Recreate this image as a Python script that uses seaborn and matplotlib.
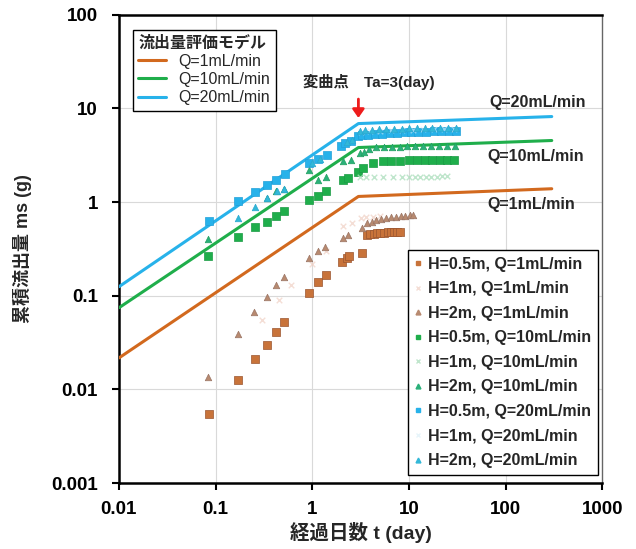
import numpy as np
import pandas as pd
import matplotlib
matplotlib.use("Agg")
import matplotlib.pyplot as plt
import seaborn as sns
from matplotlib.ticker import FixedLocator, FixedFormatter, NullLocator
from matplotlib.lines import Line2D

# ----------------------------- Datos -----------------------------
# Modelo de evaluación (tramos en escala log-log)
t_modelo = [0.01, 3, 300]
m_q1 = [0.0217, 1.15, 1.39]
m_q10 = [0.0745, 3.83, 4.55]
m_q20 = [0.125, 6.9, 8.2]

# Mediciones H=0.5m, Q=1mL/min
t_h05_q1 = [0.086, 0.171, 0.256, 0.342, 0.424, 0.51, 0.93, 1.15, 1.39, 2.05, 2.3, 2.4, 3.3,
            3.7, 4.0, 4.3, 4.7, 5.0, 5.5, 6.0, 6.5, 7.0, 7.5, 8.0]
m_h05_q1 = [0.0055, 0.0127, 0.0212, 0.030, 0.041, 0.053, 0.108, 0.141, 0.168, 0.231, 0.255, 0.268, 0.288,
            0.45, 0.46, 0.46, 0.47, 0.47, 0.47, 0.48, 0.48, 0.48, 0.48, 0.48]
# H=1m, Q=1mL/min (marcas claras)
t_h1_q1 = [0.30, 0.45, 0.6, 1.0, 1.4, 2.1, 2.6, 3.2, 3.6, 4.2, 5.0]
m_h1_q1 = [0.055, 0.09, 0.13, 0.22, 0.30, 0.55, 0.60, 0.68, 0.70, 0.70, 0.72]
# H=2m, Q=1mL/min
t_h2_q1 = [0.0836, 0.171, 0.25, 0.342, 0.424, 0.51, 0.93, 1.15, 1.35, 2.1, 2.35, 3.3,
           3.7, 4.1, 4.6, 5.2, 5.8, 6.5, 7.3, 8.2, 9.2, 10.3, 11.0]
m_h2_q1 = [0.0136, 0.0393, 0.0675, 0.0975, 0.131, 0.16, 0.255, 0.303, 0.334, 0.417, 0.449, 0.534,
           0.60, 0.62, 0.64, 0.66, 0.68, 0.69, 0.70, 0.71, 0.72, 0.73, 0.735]

# H=0.5m, Q=10mL/min
t_h05_q10 = [0.0836, 0.171, 0.256, 0.342, 0.424, 0.51, 0.93, 1.15, 1.39, 2.1, 2.36,
             3.0, 3.38, 4.29, 5.44, 6.5, 8.0, 10.0, 12.0, 14.5, 17.5, 21.0, 25.0, 29.0]
m_h05_q10 = [0.268, 0.428, 0.547, 0.618, 0.718, 0.81, 1.06, 1.17, 1.30, 1.74, 1.83,
             2.12, 2.34, 2.64, 2.72, 2.76, 2.78, 2.80, 2.80, 2.82, 2.82, 2.83, 2.83, 2.84]
# H=1m, Q=10mL/min (marcas claras)
t_h1_q10 = [3.1, 3.6, 4.3, 5.4, 6.8, 8.5, 10.0, 11.5, 13.0, 15.0, 17.0, 19.5, 22.0, 25.0]
m_h1_q10 = [1.85, 1.86, 1.84, 1.85, 1.86, 1.85, 1.86, 1.86, 1.86, 1.87, 1.87, 1.87, 1.88, 1.88]
# H=2m, Q=10mL/min
t_h2_q10 = [0.0836, 0.342, 0.424, 0.51, 0.93, 1.15, 1.39, 2.1, 2.5, 3.1, 3.4, 3.9,
            4.6, 5.5, 6.6, 8.0, 9.5, 11.5, 14.0, 17.0, 20.5, 25.0, 30.0]
m_h2_q10 = [0.40, 1.12, 1.33, 1.39, 2.23, 1.74, 1.87, 2.78, 2.85, 3.38, 3.45, 3.73,
            3.85, 3.88, 3.90, 3.92, 3.94, 3.95, 3.96, 3.97, 3.98, 3.99, 4.0]

# H=0.5m, Q=20mL/min
t_h05_q20 = [0.0858, 0.171, 0.256, 0.342, 0.424, 0.525, 0.93, 1.15, 1.43, 2.0, 2.2, 2.5,
             3.0, 3.3, 3.8, 4.5, 5.3, 6.3, 7.5, 9.0, 10.5, 12.5, 15.0, 18.0, 21.5, 26.0, 31.0]
m_h05_q20 = [0.634, 1.04, 1.29, 1.54, 1.74, 2.02, 2.64, 2.92, 3.22, 4.0, 4.33, 4.5,
             5.05, 5.15, 5.25, 5.35, 5.40, 5.45, 5.50, 5.55, 5.58, 5.62, 5.65, 5.68, 5.70, 5.72, 5.75]
# H=1m, Q=20mL/min (marcas claras)
t_h1_q20 = [3.2, 4.0, 5.0, 6.5, 8.5, 11.0, 14.0, 18.0, 23.0, 29.0]
m_h1_q20 = [5.6, 5.7, 5.8, 5.85, 5.9, 5.95, 6.0, 6.0, 6.05, 6.05]
# H=2m, Q=20mL/min
t_h2_q20 = [0.171, 0.256, 0.342, 0.43, 0.51, 1.0, 1.2, 2.3, 2.6,
            3.1, 3.5, 4.1, 4.9, 5.8, 7.0, 8.4, 10.0, 12.0, 14.5, 17.5, 21.0, 25.5, 31.0]
m_h2_q20 = [0.682, 0.895, 1.12, 1.33, 1.39, 2.6, 2.9, 4.4, 4.6,
            5.8, 5.9, 5.95, 6.0, 6.05, 6.1, 6.1, 6.15, 6.15, 6.2, 6.2, 6.2, 6.25, 6.25]

# Colores
c_q1 = "#d2691e"
c_q10 = "#1fae4b"
c_q20 = "#27b2ea"

# ----------------------------- Estilo -----------------------------
sns.set_style("ticks")
plt.rcParams['font.family'] = ['Liberation Sans', 'Noto Sans CJK JP', 'DejaVu Sans']
plt.rcParams['font.weight'] = 'bold'

fig = plt.figure(figsize=(6.36, 5.49), dpi=100)
ax = fig.add_axes([0.187, 0.120, 0.760, 0.853])
ax.set_xscale('log')
ax.set_yscale('log')

# Rejilla
for v in [0.1, 1, 10, 100]:
    ax.axvline(v, color='#d9d9d9', lw=0.8, zorder=0)
for v in [0.01, 0.1, 1, 10]:
    ax.axhline(v, color='#d9d9d9', lw=0.8, zorder=0)

# ----------------------------- Modelo -----------------------------
df_mod = pd.DataFrame({'t': t_modelo * 3,
                       'm': m_q1 + m_q10 + m_q20,
                       'serie': ['Q=1mL/min'] * 3 + ['Q=10mL/min'] * 3 + ['Q=20mL/min'] * 3})
sns.lineplot(data=df_mod, x='t', y='m', hue='serie', palette=[c_q1, c_q10, c_q20],
             linewidth=2.2, ax=ax, legend=False, zorder=3)

# ----------------------------- Mediciones -----------------------------
series = [
    ('H=0.5m, Q=1mL/min', t_h05_q1, m_h05_q1, 's', '#c8733a', '#9a5530', 28, 1.0),
    ('H=1m, Q=1mL/min', t_h1_q1, m_h1_q1, 'x', '#f0d0c4', '#f0d0c4', 16, 0.7),
    ('H=2m, Q=1mL/min', t_h2_q1, m_h2_q1, '^', '#b88a70', '#9a7565', 22, 1.0),
    ('H=0.5m, Q=10mL/min', t_h05_q10, m_h05_q10, 's', c_q10, '#1a9a44', 30, 1.0),
    ('H=1m, Q=10mL/min', t_h1_q10, m_h1_q10, 'x', '#b0e0c0', '#b0e0c0', 16, 0.8),
    ('H=2m, Q=10mL/min', t_h2_q10, m_h2_q10, '^', '#2bb07a', '#22a060', 22, 1.0),
    ('H=0.5m, Q=20mL/min', t_h05_q20, m_h05_q20, 's', c_q20, '#22a0d8', 30, 1.0),
    ('H=1m, Q=20mL/min', t_h1_q20, m_h1_q20, 'x', '#d8eef8', '#d8eef8', 16, 0.6),
    ('H=2m, Q=20mL/min', t_h2_q20, m_h2_q20, '^', '#33b8d8', '#2aa8d0', 22, 1.0),
]

for nombre, tt, mm, mk, fc, ec, s, a in series:
    sns.scatterplot(x=tt, y=mm, marker=mk, s=s, color=fc, edgecolor=ec if mk != 'x' else None,
                    linewidth=0.5 if mk != 'x' else 1.0, alpha=a, ax=ax, zorder=4)

# ----------------------------- Ejes -----------------------------
ax.set_xlim(0.01, 1000)
ax.set_ylim(0.001, 100)
xt = [0.01, 0.1, 1, 10, 100, 1000]
yt = [0.001, 0.01, 0.1, 1, 10, 100]
ax.xaxis.set_major_locator(FixedLocator(xt))
ax.xaxis.set_major_formatter(FixedFormatter(['0.01', '0.1', '1', '10', '100', '1000']))
ax.yaxis.set_major_locator(FixedLocator(yt))
ax.yaxis.set_major_formatter(FixedFormatter(['0.001', '0.01', '0.1', '1', '10', '100']))
ax.xaxis.set_minor_locator(NullLocator())
ax.yaxis.set_minor_locator(NullLocator())
ax.tick_params(axis='both', which='major', direction='out', length=5, width=1.5,
               labelsize=13.5, colors='black')
ax.tick_params(axis='x', pad=8)
ax.tick_params(axis='y', pad=10)
for lab in ax.get_xticklabels() + ax.get_yticklabels():
    lab.set_fontweight('bold')
for sp in ax.spines.values():
    sp.set_visible(True)
    sp.set_linewidth(1.8)
    sp.set_color('black')
ax.spines['right'].set_linewidth(1.0)
ax.spines['right'].set_color('#666666')

ax.set_xlabel('経過日数 t (day)', fontsize=14, fontweight='bold', labelpad=3)
ax.set_ylabel('累積流出量 ms (g)', fontsize=13, fontweight='bold', labelpad=14)

# Anotaciones
ax.annotate('', xy=(3, 7.4), xytext=(3, 13.5),
            arrowprops=dict(arrowstyle='-|>,head_width=0.35,head_length=0.5', color='#ee1c1c', lw=2))
ax.text(3.8, 19, '変曲点　Ta=3(day)', ha='center', va='center', fontsize=11, fontweight='bold')
ax.text(215, 11.6, 'Q=20mL/min', ha='center', va='center', fontsize=11.5, fontweight='bold')
ax.text(205, 3.07, 'Q=10mL/min', ha='center', va='center', fontsize=11.5, fontweight='bold')
ax.text(182, 0.94, 'Q=1mL/min', ha='center', va='center', fontsize=11.5, fontweight='bold')

# ----------------------------- Leyendas -----------------------------
h_mod = [Line2D([0], [0], color=c, lw=2.2) for c in [c_q1, c_q10, c_q20]]
leg1 = ax.legend(h_mod, ['Q=1mL/min', 'Q=10mL/min', 'Q=20mL/min'], title='流出量評価モデル',
                 loc='upper left', bbox_to_anchor=(0.012, 0.985), fontsize=11.5, title_fontsize=11.5,
                 frameon=True, fancybox=False, edgecolor='black', framealpha=1,
                 handlelength=1.75, handletextpad=0.75, borderpad=0.35, labelspacing=0.2)
leg1._legend_box.align = 'left'
leg1.get_frame().set_linewidth(1.0)
for t in leg1.get_texts():
    t.set_fontweight('normal')
leg1.get_title().set_fontweight('bold')
ax.add_artist(leg1)

h_dat = [Line2D([0], [0], marker=mk, linestyle='', markersize=3.5, markerfacecolor=fc,
                markeredgecolor=fc, alpha=a) for _, _, _, mk, fc, ec, s, a in series]
leg2 = ax.legend(h_dat, [x[0] for x in series], loc='lower right', bbox_to_anchor=(1.0, 0.008),
                 fontsize=11.5, frameon=True, fancybox=False, edgecolor='black', framealpha=1,
                 handlelength=0.5, handletextpad=0.35, borderpad=0.4, labelspacing=0.6,
                 borderaxespad=0.3)
leg2.get_frame().set_linewidth(1.0)
for t in leg2.get_texts():
    t.set_fontweight('bold')

fig.savefig('out.png', dpi=100)
